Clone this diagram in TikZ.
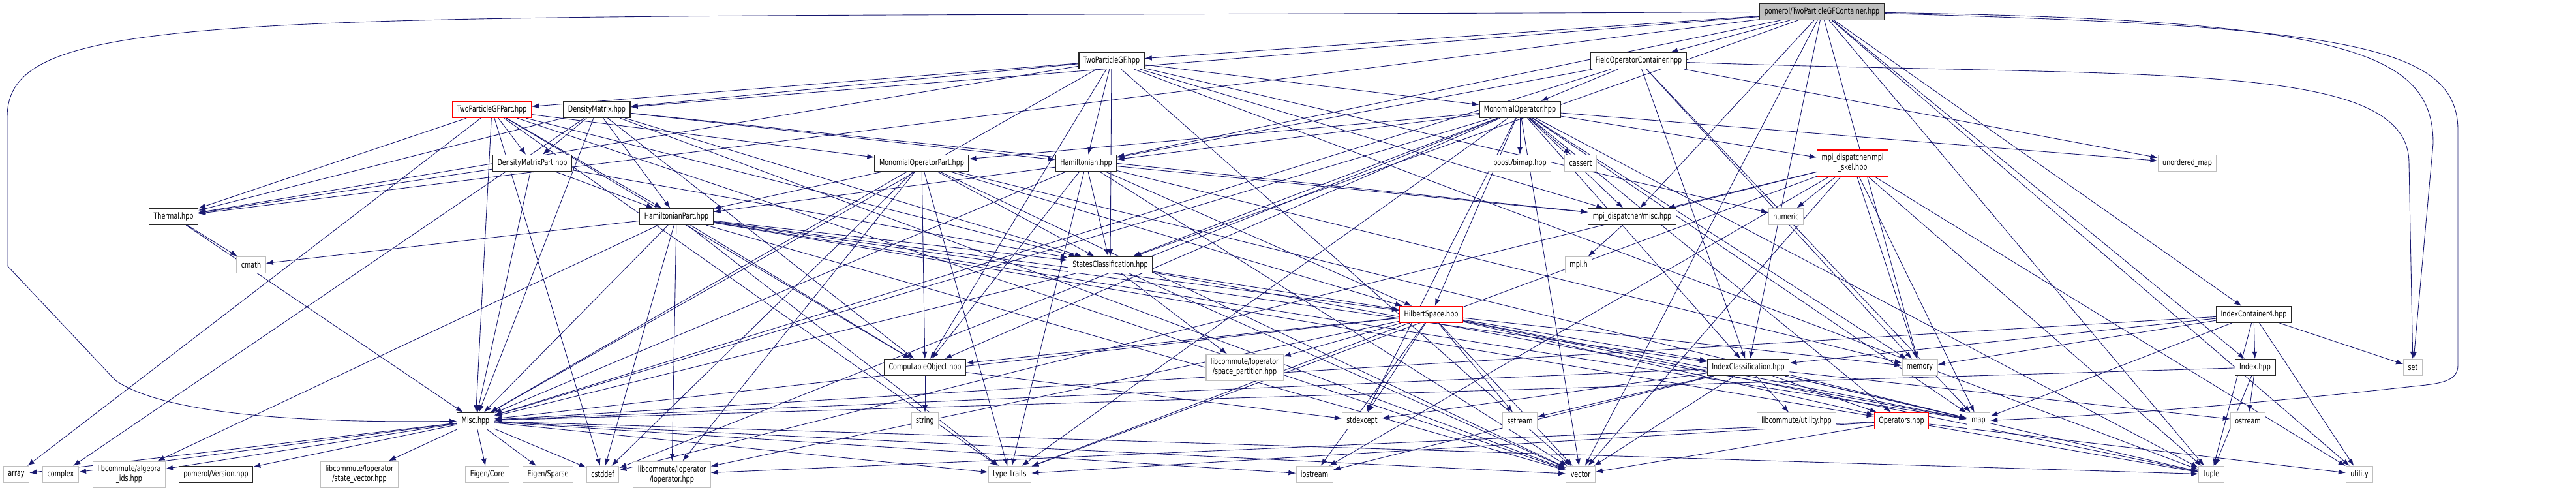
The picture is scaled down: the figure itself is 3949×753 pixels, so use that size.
\documentclass[tikz,border=0pt]{standalone}
\usepackage{fontspec}
\setmainfont{DejaVu Sans}[FakeStretch=0.75]
\usetikzlibrary{arrows.meta, backgrounds}
\definecolor{edgeblue}{HTML}{191970}
\definecolor{boxgray}{HTML}{BFBFBF}
\newcommand\graphfont{\fontsize{12.8}{15}\selectfont}
\tikzset{
  hdr/.style={draw=black!85, fill=white, line width=1.2pt, inner xsep=7pt,
    inner ysep=0pt, minimum height=25pt, align=center, font=\graphfont},
  syshdr/.style={hdr, draw=boxgray},
  cuthdr/.style={hdr, draw=red},
  roothdr/.style={hdr, fill=boxgray},
  tall/.style={minimum height=40pt},
  incl/.style={draw=edgeblue, line width=0.9pt, -{Latex[length=11pt,width=8pt]}}
}

\begin{document}
\begin{tikzpicture}[x=1pt, y=-1pt]
  \useasboundingbox (0,0) rectangle (3949,753);
  % rows 0-3
  \node[roothdr] (root) at (2793,18) {pomerol/TwoParticleGFContainer.hpp};
  \node[hdr] (tpgf) at (1704,93) {TwoParticleGF.hpp};
  \node[hdr] (focont) at (2512,93) {FieldOperatorContainer.hpp};
  \node[cuthdr] (tpgfpart) at (754,168) {TwoParticleGFPart.hpp};
  \node[hdr] (dm) at (915,168) {DensityMatrix.hpp};
  \node[hdr] (mono) at (2330,168) {MonomialOperator.hpp};
  \node[hdr] (dmpart) at (816,250) {DensityMatrixPart.hpp};
  \node[hdr] (monopart) at (1413,250) {MonomialOperatorPart.hpp};
  \node[hdr] (ham) at (1665,250) {Hamiltonian.hpp};
  \node[syshdr] (bimap) at (2330,250) {boost/bimap.hpp};
  \node[syshdr] (cassert) at (2423,250) {cassert};
  \node[cuthdr, tall] (mpiskel) at (2840,250) {mpi\_dispatcher/mpi\\\_skel.hpp};
  \node[syshdr] (umap) at (3353,250) {unordered\_map};
  % rows 4-6
  \node[hdr] (thermal) at (266,332) {Thermal.hpp};
  \node[hdr] (hampart) at (1037,332) {HamiltonianPart.hpp};
  \node[hdr] (mpimisc) at (2502,332) {mpi\_dispatcher/misc.hpp};
  \node[syshdr] (numeric) at (2738,332) {numeric};
  \node[syshdr] (cmath) at (385,406) {cmath};
  \node[hdr] (sc) at (1702,406) {StatesClassification.hpp};
  \node[syshdr] (mpih) at (2420,406) {mpi.h};
  \node[cuthdr] (hs) at (2194,482) {HilbertSpace.hpp};
  \node[hdr] (ic4) at (3455,482) {IndexContainer4.hpp};
  % row 7
  \node[hdr] (compobj) at (1418,563) {ComputableObject.hpp};
  \node[syshdr, tall] (spacepart) at (1908,563) {libcommute/loperator\\/space\_partition.hpp};
  \node[hdr] (indexcl) at (2680,563) {IndexClassification.hpp};
  \node[syshdr] (memory) at (2943,563) {memory};
  \node[hdr] (index) at (3457,563) {Index.hpp};
  \node[syshdr] (set) at (3699,563) {set};
  % row 8
  \node[hdr] (misc) at (729,645) {Misc.hpp};
  \node[syshdr] (string) at (1418,645) {string};
  \node[syshdr] (stdexcept) at (2088,645) {stdexcept};
  \node[syshdr] (sstream) at (2330,645) {sstream};
  \node[syshdr] (lcutil) at (2754,645) {libcommute/utility.hpp};
  \node[cuthdr] (operators) at (2915,645) {Operators.hpp};
  \node[syshdr] (map) at (3033,645) {map};
  \node[syshdr] (ostream) at (3446,645) {ostream};
  % row 9
  \node[syshdr] (array) at (25,727) {array};
  \node[syshdr] (complex) at (93,727) {complex};
  \node[syshdr, tall] (algids) at (198,727) {libcommute/algebra\\\_ids.hpp};
  \node[hdr] (version) at (331,727) {pomerol/Version.hpp};
  \node[syshdr, tall] (statevec) at (551,727) {libcommute/loperator\\/state\_vector.hpp};
  \node[syshdr] (eigencore) at (747,727) {Eigen/Core};
  \node[syshdr] (eigensparse) at (840,727) {Eigen/Sparse};
  \node[syshdr] (cstddef) at (924,727) {cstddef};
  \node[syshdr, tall] (loperator) at (1030,727) {libcommute/loperator\\/loperator.hpp};
  \node[syshdr] (typetraits) at (1548,727) {type\_traits};
  \node[syshdr] (iostream) at (2015,727) {iostream};
  \node[syshdr] (vector) at (2423,727) {vector};
  \node[syshdr] (tuple) at (3390,727) {tuple};
  \node[syshdr] (utility) at (3617,727) {utility};

  \begin{scope}[on background layer]
    \foreach \s/\t in {root/tpgf, root/focont, root/dm, root/ham, root/thermal,
        root/sc, root/mpimisc, root/indexcl, root/ic4, root/index, root/memory,
        root/tuple, root/utility, root/vector,
        tpgf/tpgfpart, tpgf/dm, tpgf/ham, tpgf/mono, tpgf/thermal, tpgf/misc,
        tpgf/sc, tpgf/compobj, tpgf/mpimisc, tpgf/numeric, tpgf/vector, tpgf/tuple,
        focont/mono, focont/ham, focont/indexcl, focont/misc, focont/umap,
        focont/memory, focont/map,
        tpgfpart/dmpart, tpgfpart/hampart, tpgfpart/monopart, tpgfpart/sc,
        tpgfpart/thermal, tpgfpart/misc, tpgfpart/compobj, tpgfpart/array,
        tpgfpart/cstddef, tpgfpart/typetraits, tpgfpart/vector,
        dm/dmpart, dm/ham, dm/hampart, dm/sc, dm/thermal, dm/misc, dm/compobj,
        dm/mpimisc, dm/complex, dm/vector,
        dmpart/hampart, dmpart/sc, dmpart/thermal, dmpart/misc,
        mono/monopart, mono/ham, mono/hs, mono/sc, mono/indexcl, mono/misc,
        mono/compobj, mono/bimap, mono/cassert, mono/mpiskel, mono/mpimisc,
        mono/umap, mono/memory, mono/map, mono/vector, mono/tuple,
        mono/operators, mono/stdexcept, mono/typetraits, mono/cstddef,
        monopart/hampart, monopart/sc, monopart/hs, monopart/misc,
        monopart/compobj, monopart/typetraits, monopart/loperator,
        monopart/cstddef, monopart/map, monopart/vector,
        ham/hampart, ham/sc, ham/hs, ham/misc, ham/compobj, ham/mpimisc,
        ham/memory, ham/vector, ham/typetraits,
        hampart/sc, hampart/hs, hampart/misc, hampart/compobj, hampart/cmath,
        hampart/algids, hampart/loperator, hampart/cstddef, hampart/typetraits,
        hampart/vector, hampart/indexcl, hampart/map, hampart/operators,
        thermal/cmath, thermal/misc,
        sc/hs, sc/misc, sc/spacepart, sc/vector, sc/map,
        mpiskel/mpimisc, mpiskel/numeric, mpiskel/memory, mpiskel/map,
        mpiskel/vector, mpiskel/tuple, mpiskel/utility, mpiskel/typetraits,
        mpiskel/iostream, mpiskel/cstddef,
        mpimisc/mpih,
        hs/compobj, hs/spacepart, hs/indexcl, hs/misc, hs/stdexcept, hs/sstream,
        hs/memory, hs/map, hs/operators, hs/vector, hs/tuple, hs/typetraits,
        hs/iostream, hs/loperator,
        ic4/indexcl, ic4/index, ic4/memory, ic4/map, ic4/set, ic4/tuple,
        ic4/utility, ic4/misc,
        compobj/string, compobj/stdexcept,
        indexcl/misc, indexcl/lcutil, indexcl/operators, indexcl/map,
        indexcl/vector, indexcl/tuple, indexcl/sstream, indexcl/stdexcept,
        indexcl/iostream, indexcl/ostream,
        index/misc, index/ostream, index/tuple,
        operators/typetraits, operators/vector, operators/tuple,
        operators/utility, operators/loperator,
        misc/algids, misc/version, misc/statevec, misc/eigencore,
        misc/eigensparse, misc/cstddef, misc/typetraits, misc/iostream,
        misc/vector, misc/tuple, misc/array, misc/complex}
      \draw[incl] (\s) -- (\t);
    % the long detours round the edges
    \draw[incl] (root) .. controls (400,30) and (11,0) .. (11,180)
      -- (11,407) -- (177,583) .. controls (260,640) and (500,648) .. (misc);
    \draw[incl] (root) .. controls (3600,40) and (3768,70) .. (3768,200)
      -- (3768,560) .. controls (3768,585) and (3740,588) .. (3700,592)
      .. controls (3400,625) and (3200,638) .. (map);
    \draw[incl] (root) .. controls (3600,30) and (3730,80) .. (3730,220)
      -- (set);
    \draw[incl] (focont) .. controls (3300,120) and (3693,90) .. (3693,250)
      -- (set);
  \end{scope}
\end{tikzpicture}
\end{document}
